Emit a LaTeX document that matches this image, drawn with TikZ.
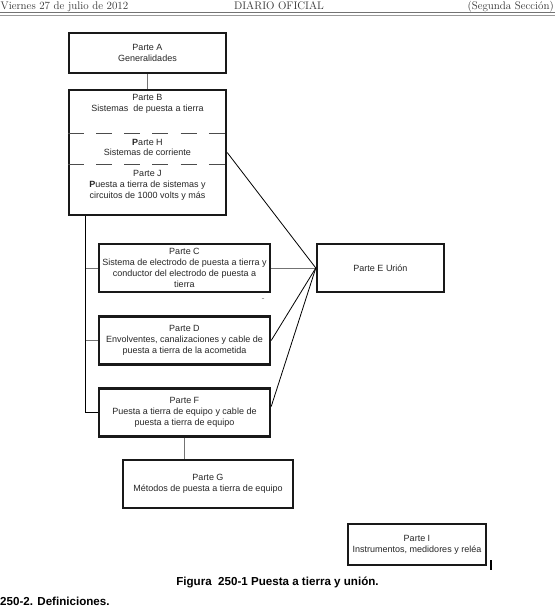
\documentclass[tikz,border=0pt]{standalone}
\usepackage{fontspec}
\newfontfamily\arialfont{Liberation Sans}
\usepackage{tikz}
\usetikzlibrary{positioning}

\begin{document}
\begin{tikzpicture}[x=1pt, y=-1pt, node distance=72pt,
  font=\arialfont\fontsize{9}{10.8}\selectfont]
\tikzset{part/.style = {draw=black!90, line width=2.4pt, minimum width=171pt,
  minimum height=48pt, inner sep=0pt, align=center, text=black!85}}
\tikzset{txt/.style = {align=center, inner sep=0pt, text=black!85},
  head/.style = {inner sep=0pt, text=black!80,
  font=\rmfamily\fontsize{11}{13}\selectfont},
  link/.style = {draw=black!55, line width=0.9pt},
  bond/.style = {draw=black, line width=0.8pt},
  bus/.style = {draw=black, line width=1.2pt},
  divider/.style = {draw=black!70, line width=0.9pt,
  dash pattern=on 16pt off 12.2pt}}

  \fill[white] (0,0) rectangle (555,611);
  \useasboundingbox (0,0) rectangle (555,611);

  \node[head, anchor=base west] (date) at (0.5,9.5) {Viernes 27 de julio de 2012};
  \node[head, anchor=base] (journal) at (279,9.5) {DIARIO OFICIAL};
  \node[head, anchor=base east] (section) at (554,9.5) {(Segunda Sección)};
  \draw[black!55, line width=1pt] (0,12.7) -- (555,12.7);
  \draw[black!40, line width=0.8pt] (0,15) -- (555,15);

  \node[part, minimum width=157pt, minimum height=40pt] (parta)
    at (147.5,53) {Parte A\\Generalidades};
  \node[part, minimum width=157pt, minimum height=125pt, node distance=99.5pt,
    below of=parta] (ground) {};
  \node[txt, node distance=51pt, below of=parta] 
    (partb) {Parte B\\Sistemas\ \ de puesta a tierra};
  \node[txt, node distance=43.5pt, below of=partb] 
    (parth) {\textbf{P}arte H\\Sistemas de corriente};
  \node[txt, node distance=38pt, below of=parth] 
    (partj) {Parte J\\\textbf{P}uesta a tierra de sistemas y\\circuitos de 1000 volts y más};
  \coordinate (cutbh) at (0,133);
  \coordinate (cuthj) at (0,164);
  \draw[divider] (ground.west |- cutbh) -- (ground.east |- cutbh);
  \draw[divider] (ground.west |- cuthj) -- (ground.east |- cuthj);

  \node[part] (partc) at (184.5,268)
    {Parte C\\Sistema de electrodo de puesta a tierra y\\conductor del electrodo de puesta a\\tierra};
  \node[part, node distance=72.5pt, below of=partc] 
    (partd) {Parte D\\Envolventes, canalizaciones y cable de\\puesta a tierra de la acometida};
  \node[part, below of=partd] 
    (partf) {Parte F\\Puesta a tierra de equipo y cable de\\puesta a tierra de equipo};
  \node[part, minimum width=170pt, node distance=71.5pt, below of=partf, xshift=23.5pt] 
    (partg) {Parte G\\Métodos de puesta a tierra de equipo};
  \node[part, minimum width=127pt, node distance=196pt, right of=partc] 
    (parte) {Parte E Urión};
  \node[part, minimum width=138pt, minimum height=41pt, line width=2pt] 
    (parti) at (417,544.5) {Parte I\\Instrumentos, medidores y reléa};
  \node[txt, text=black!50] (stray) at (263,300) {-};

  \draw[link] (parta) -- (ground);
  \coordinate (bustop) at ([xshift=18pt]ground.south west);
  \draw[bus] (bustop) |- (partf.west);
  \draw[link] (partc.west) -- (partc.west -| bustop);
  \draw[link] (partd.west) -- (partd.west -| bustop);
  \draw[link] (partc) -- (parte);
  \draw[bond] (ground.east) -- (parte.west);
  \draw[bond] (partd.east) -- (parte.west);
  \draw[bond] ([yshift=6pt]partf.east) -- (parte.west);
  \draw[link] (partf.south) -- (partf.south |- partg.north);
  \draw[line width=2pt] (491,560) -- (491,570);

  \node[font=\arialfont\bfseries\fontsize{11.6}{14}\selectfont] 
    (caption) at (277.5,582) {Figura\ \ 250-1 Puesta a tierra y unión.};
  \node[anchor=west, inner sep=0pt, font=\arialfont\bfseries\fontsize{11.6}{14}\selectfont] 
    (defs) at (0,601) {250-2. Definiciones.};

\end{tikzpicture}
\end{document}
